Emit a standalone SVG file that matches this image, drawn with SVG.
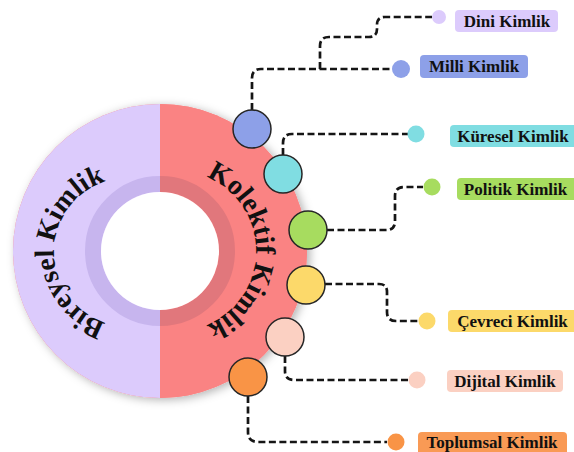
<svg xmlns="http://www.w3.org/2000/svg" width="574" height="452" viewBox="0 0 574 452">
<defs>
<style>
.conn{fill:none;stroke:#151515;stroke-width:2.7;stroke-dasharray:7 3.5}
.hub{stroke:#262626;stroke-width:1.5}
.lbl{font-family:"Liberation Serif","Times New Roman",serif;font-weight:bold;font-size:17px;fill:#111;text-anchor:middle}
.arc{font-family:"Liberation Serif","Times New Roman",serif;font-weight:bold;font-size:28px;fill:#111}
</style>
<filter id="sh" x="-20%" y="-20%" width="140%" height="140%">
<feDropShadow dx="3" dy="2" stdDeviation="5" flood-color="#000" flood-opacity="0.3"/>
</filter>
<path id="pl" d="M 128 326 A 74 74 0 0 1 128 178"/>
<path id="pr" d="M 176 171 A 80 80 0 0 1 176 331"/>
</defs>
<rect width="574" height="452" fill="#fff"/>
<g id="core">
<circle cx="160" cy="251" r="147" fill="#f98282" filter="url(#sh)"/>
<path d="M 160 104 A 147 147 0 0 0 160 398 Z" fill="#dccbfc"/>
<path d="M 160 104 A 147 147 0 0 1 160 398 Z" fill="#fa8383"/>
<path d="M 160 184 A 67 67 0 0 0 160 318" fill="none" stroke="#c7b5ee" stroke-width="16"/>
<path d="M 160 184 A 67 67 0 0 1 160 318" fill="none" stroke="#e1777c" stroke-width="16"/>
<circle cx="160" cy="251" r="59" fill="#fff"/>
</g>
<g id="bireysel">
<text class="arc"><textPath href="#pl" startOffset="50%" text-anchor="middle">Bireysel Kimlik</textPath></text>
</g>
<g id="kolektif">
<text class="arc"><textPath href="#pr" startOffset="50%" text-anchor="middle">Kolektif Kimlik</textPath></text>
</g>
<g id="connectors">
<path class="conn" d="M 252 110 V 78 Q 252 69 261 69 H 392"/>
<path class="conn" d="M 320 69 V 46 Q 320 37 329 37 H 369 Q 377 37 377 29 V 25 Q 377 17 385 17 H 432"/>
<path class="conn" d="M 283 155 V 143 Q 283 134 292 134 H 408"/>
<path class="conn" d="M 327 230 H 386 Q 395 230 395 221 V 196 Q 395 187 404 187 H 423"/>
<path class="conn" d="M 325 284 H 379 Q 387 284 387 292 V 312 Q 387 321 396 321 H 418"/>
<path class="conn" d="M 285 356 V 371 Q 285 380 294 380 H 408"/>
<path class="conn" d="M 248 396 V 432 Q 248 442 258 442 H 387"/>
</g>
<g id="hub-milli"><circle class="hub" cx="252" cy="129" r="19" fill="#8da0e8"/></g>
<g id="hub-kuresel"><circle class="hub" cx="283" cy="174" r="19" fill="#80dde2"/></g>
<g id="hub-politik"><circle class="hub" cx="308" cy="230" r="19" fill="#a7dc5f"/></g>
<g id="hub-cevreci"><circle class="hub" cx="306" cy="285" r="19" fill="#fcd96a"/></g>
<g id="hub-dijital"><circle class="hub" cx="285" cy="337" r="19" fill="#fbd0c2"/></g>
<g id="hub-toplumsal"><circle class="hub" cx="248" cy="377" r="19" fill="#f99446"/></g>
<g id="dini">
<circle cx="439" cy="17" r="7" fill="#dccbfc"/>
<rect x="455" y="10" width="103" height="22" rx="4" fill="#dccbfc"/>
<text class="lbl" x="507" y="27">Dini Kimlik</text>
</g>
<g id="milli">
<circle cx="401" cy="69" r="9" fill="#8da0e8"/>
<rect x="420" y="55" width="108" height="23" rx="4" fill="#8da0e8"/>
<text class="lbl" x="474" y="72">Milli Kimlik</text>
</g>
<g id="kuresel">
<circle cx="416" cy="134" r="8.5" fill="#80dde2"/>
<rect x="450" y="125" width="130" height="22" rx="4" fill="#80dde2"/>
<text class="lbl" x="513" y="142">Küresel Kimlik</text>
</g>
<g id="politik">
<circle cx="432" cy="187" r="8.5" fill="#a7dc5f"/>
<rect x="457" y="178" width="123" height="22" rx="4" fill="#a7dc5f"/>
<text class="lbl" x="515.5" y="195">Politik Kimlik</text>
</g>
<g id="cevreci">
<circle cx="427" cy="321" r="8.5" fill="#fcd96a"/>
<rect x="448" y="310" width="132" height="22" rx="4" fill="#fcd96a"/>
<text class="lbl" x="512.5" y="327">Çevreci Kimlik</text>
</g>
<g id="dijital">
<circle cx="417" cy="380" r="8.5" fill="#fbd0c2"/>
<rect x="447" y="370" width="116" height="22" rx="4" fill="#fbd0c2"/>
<text class="lbl" x="505" y="387">Dijital Kimlik</text>
</g>
<g id="toplumsal">
<circle cx="396" cy="442" r="8.5" fill="#f99446"/>
<rect x="418" y="432" width="149" height="23" rx="4" fill="#f99a55"/>
<text class="lbl" x="492" y="448">Toplumsal Kimlik</text>
</g>
</svg>
